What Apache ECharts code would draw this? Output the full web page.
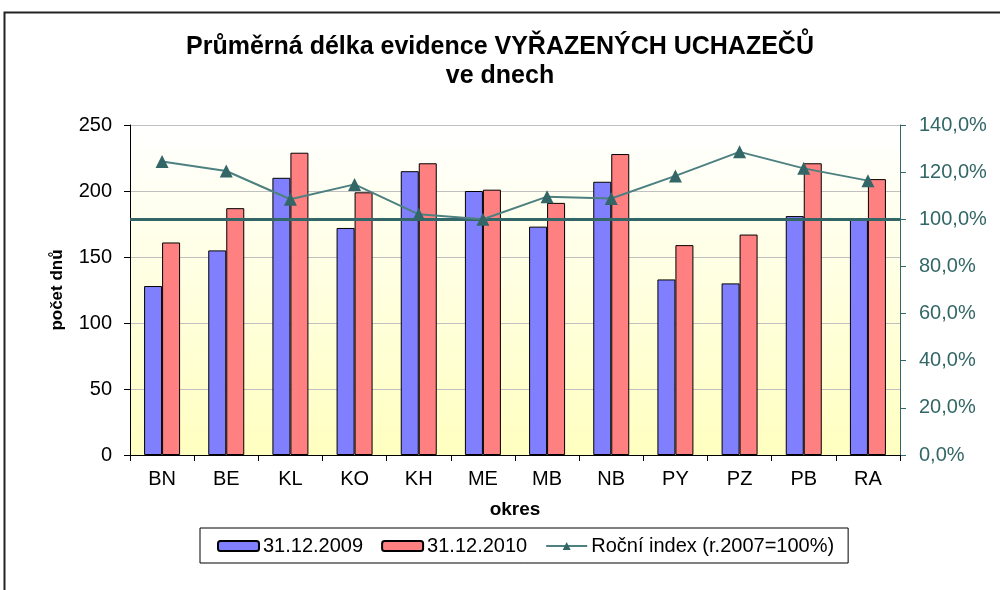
<!DOCTYPE html>
<html>
<head>
<meta charset="utf-8">
<script src="https://cdn.jsdelivr.net/npm/echarts@6/dist/echarts.min.js"></script>
<style>
  html, body { margin: 0; padding: 0; background: #fff; }
  #chart { width: 1000px; height: 590px; }
</style>
</head>
<body>
<div id="chart"></div>
<script>
  // okresy
  var categories = ['BN', 'BE', 'KL', 'KO', 'KH', 'ME', 'MB', 'NB', 'PY', 'PZ', 'PB', 'RA'];
  // počet dnů
  var values2009 = [128, 155, 210, 172, 215, 200, 173, 207, 133, 130, 181, 179];
  var values2010 = [161, 187, 229, 199, 221, 201, 191, 228, 159, 167, 221, 209];
  // roční index v %
  var indexValues = [124.5, 120.5, 108.5, 114.8, 102.1, 100.0, 109.6, 108.8, 118.4, 128.6, 121.6, 116.4];
  var leftTicks = [0, 50, 100, 150, 200, 250];
  var rightTicks = [0, 20, 40, 60, 80, 100, 120, 140];

  var teal = '#336666';
  var font = 'Liberation Sans, Arial, sans-serif';

  var myChart = echarts.init(document.getElementById('chart'));
  myChart.setOption({
    animation: false,
    textStyle: { fontFamily: font },
    title: {
      text: 'Průměrná délka evidence VYŘAZENÝCH UCHAZEČŮ\nve dnech',
      left: 'center',
      top: 28,
      textStyle: { fontSize: 25, fontWeight: 'bold', color: '#000', lineHeight: 29, fontFamily: font }
    },
    graphic: [{
      type: 'rect',
      shape: { x: 4.5, y: 12.5, width: 1000, height: 600 },
      style: { fill: 'none', stroke: '#222', lineWidth: 2 },
      silent: true
    }],
    legend: {
      left: 200,
      top: 528,
      padding: [8, 14, 7, 17],
      itemGap: 18,
      itemWidth: 41,
      itemHeight: 10,
      borderColor: '#000',
      borderWidth: 1,
      textStyle: { fontSize: 20, color: '#000', padding: [0, 0, 0, -1] },
      data: ['31.12.2009', '31.12.2010', 'Roční index (r.2007=100%)']
    },
    grid: {
      left: 130,
      right: 100,
      top: 125,
      bottom: 135,
      show: true,
      borderWidth: 0,
      backgroundColor: new echarts.graphic.LinearGradient(0, 0, 0, 1, [
        { offset: 0, color: '#ffffff' },
        { offset: 1, color: '#ffffc0' }
      ])
    },
    xAxis: {
      type: 'category',
      data: categories,
      name: 'okres',
      nameLocation: 'middle',
      nameGap: 45,
      nameTextStyle: { fontSize: 19, fontWeight: 'bold', color: '#000' },
      axisLine: { lineStyle: { color: '#000', width: 1 } },
      axisTick: { show: true, length: 6, lineStyle: { color: '#000' } },
      axisLabel: { fontSize: 20, color: '#000', margin: 14 }
    },
    yAxis: [{
      type: 'value',
      min: leftTicks[0],
      max: leftTicks[leftTicks.length - 1],
      interval: 50,
      name: 'počet dnů',
      nameLocation: 'middle',
      nameGap: 64,
      nameTextStyle: { fontSize: 17, fontWeight: 'bold', color: '#000' },
      axisLine: { show: true, lineStyle: { color: '#000', width: 1 } },
      axisTick: { show: true, length: 6, lineStyle: { color: '#000' } },
      axisLabel: { fontSize: 20, color: '#000', margin: 18 },
      splitLine: { show: true, lineStyle: { color: '#c0c0c0', width: 1 } }
    }, {
      type: 'value',
      min: rightTicks[0],
      max: rightTicks[rightTicks.length - 1],
      interval: 20,
      position: 'right',
      axisLine: { show: true, lineStyle: { color: teal, width: 1 } },
      axisTick: { show: true, length: 6, lineStyle: { color: teal } },
      axisLabel: {
        fontSize: 20,
        color: teal,
        margin: 19,
        formatter: function (v) { return v.toFixed(1).replace('.', ',') + '%'; }
      },
      splitLine: { show: false }
    }],
    series: [{
      name: '31.12.2009',
      type: 'bar',
      data: values2009,
      barWidth: 18,
      barGap: '0%',
      itemStyle: { color: '#8080ff', borderColor: '#000', borderWidth: 1 }
    }, {
      name: '31.12.2010',
      type: 'bar',
      data: values2010,
      barWidth: 18,
      barGap: '0%',
      itemStyle: { color: '#ff8080', borderColor: '#000', borderWidth: 1 }
    }, {
      name: 'Roční index (r.2007=100%)',
      type: 'line',
      yAxisIndex: 1,
      data: indexValues,
      symbol: 'triangle',
      symbolSize: 13,
      z: 5,
      lineStyle: { color: '#4d8080', width: 2 },
      itemStyle: { color: teal },
      markLine: {
        silent: true,
        symbol: 'none',
        label: { show: false },
        lineStyle: { color: teal, width: 3, type: 'solid' },
        data: [{ yAxis: 100 }]
      }
    }]
  });
</script>
</body>
</html>
